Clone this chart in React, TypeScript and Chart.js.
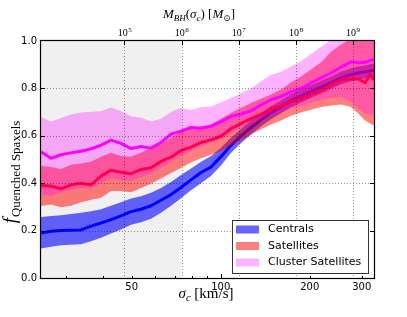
import React, { useEffect, useRef } from "react";
import { Chart, registerables } from "chart.js";

Chart.register(...registerables);

// sigma_c [km/s] sample positions
const sigma = [24.67, 26.67, 28.83, 31.16, 33.69, 36.41, 39.37, 42.56, 46.0, 49.73, 53.76, 58.11, 62.81, 67.91, 73.41, 79.36, 85.78, 92.73, 100.2, 108.3, 117.2, 126.6, 136.9, 148.0, 160.0, 172.9, 186.9, 202.1, 218.5, 236.1, 255.3, 275.9, 291.4, 307.8, 320.0, 330.0];

// Centrals
const centralsMed = [0.19, 0.197, 0.2, 0.202, 0.203, 0.219, 0.232, 0.246, 0.262, 0.28, 0.29, 0.305, 0.328, 0.352, 0.382, 0.414, 0.445, 0.468, 0.512, 0.56, 0.6, 0.635, 0.668, 0.698, 0.722, 0.748, 0.768, 0.787, 0.805, 0.824, 0.845, 0.858, 0.865, 0.87, 0.874, 0.876];
const centralsLo = [0.125, 0.132, 0.138, 0.14, 0.142, 0.155, 0.17, 0.188, 0.205, 0.225, 0.235, 0.25, 0.275, 0.305, 0.337, 0.37, 0.4, 0.43, 0.475, 0.527, 0.57, 0.605, 0.64, 0.67, 0.695, 0.72, 0.74, 0.76, 0.778, 0.797, 0.818, 0.83, 0.837, 0.842, 0.846, 0.848];
const centralsHi = [0.257, 0.262, 0.265, 0.27, 0.275, 0.282, 0.29, 0.305, 0.32, 0.335, 0.345, 0.36, 0.38, 0.405, 0.435, 0.462, 0.49, 0.515, 0.55, 0.592, 0.63, 0.665, 0.695, 0.725, 0.75, 0.775, 0.795, 0.813, 0.832, 0.85, 0.87, 0.885, 0.892, 0.897, 0.902, 0.905];

// Satellites
const satMed = [0.39, 0.388, 0.376, 0.393, 0.4, 0.393, 0.43, 0.455, 0.446, 0.44, 0.458, 0.465, 0.492, 0.51, 0.538, 0.552, 0.572, 0.583, 0.598, 0.63, 0.652, 0.672, 0.69, 0.715, 0.725, 0.745, 0.755, 0.776, 0.79, 0.815, 0.836, 0.84, 0.841, 0.824, 0.858, 0.835];
const satLo = [0.304, 0.31, 0.298, 0.305, 0.32, 0.33, 0.339, 0.367, 0.367, 0.362, 0.38, 0.398, 0.42, 0.443, 0.465, 0.487, 0.505, 0.52, 0.535, 0.56, 0.58, 0.605, 0.628, 0.648, 0.665, 0.685, 0.698, 0.71, 0.722, 0.728, 0.732, 0.722, 0.695, 0.665, 0.652, 0.645];
const satHi = [0.473, 0.468, 0.46, 0.478, 0.483, 0.49, 0.512, 0.528, 0.515, 0.512, 0.528, 0.548, 0.567, 0.592, 0.618, 0.632, 0.64, 0.648, 0.672, 0.696, 0.718, 0.738, 0.756, 0.774, 0.795, 0.825, 0.85, 0.88, 0.91, 0.955, 0.985, 1.01, 1.025, 1.035, 1.04, 1.05];

// Cluster satellites
const clusterMed = [0.533, 0.505, 0.52, 0.528, 0.535, 0.545, 0.56, 0.582, 0.568, 0.546, 0.555, 0.548, 0.572, 0.607, 0.62, 0.635, 0.632, 0.64, 0.66, 0.682, 0.692, 0.705, 0.73, 0.752, 0.766, 0.785, 0.8, 0.822, 0.845, 0.865, 0.89, 0.912, 0.908, 0.91, 0.918, 0.922];
const clusterLo = [0.353, 0.346, 0.362, 0.374, 0.38, 0.378, 0.4, 0.422, 0.413, 0.41, 0.425, 0.44, 0.465, 0.49, 0.515, 0.535, 0.555, 0.57, 0.585, 0.612, 0.632, 0.65, 0.668, 0.69, 0.7, 0.715, 0.725, 0.74, 0.75, 0.76, 0.765, 0.745, 0.715, 0.695, 0.69, 0.69];
const clusterHi = [0.679, 0.66, 0.675, 0.69, 0.698, 0.702, 0.704, 0.719, 0.705, 0.682, 0.676, 0.66, 0.672, 0.7, 0.718, 0.708, 0.72, 0.724, 0.74, 0.76, 0.78, 0.8, 0.83, 0.858, 0.87, 0.892, 0.915, 0.945, 0.975, 1.005, 1.02, 1.04, 1.05, 1.06, 1.065, 1.07];

const seriesNames = ["Centrals", "Satellites", "Cluster Satellites"];
const bandColors = ["rgba(0,0,255,0.6)", "rgba(255,0,0,0.5)", "rgba(255,0,255,0.3)"];
const lineColors = ["#0000ff", "#ff0000", "#ff00ff"];

// tick labels
const sigmaLabelTicks = [50, 100, 200, 300];
const sigmaMinorTicks = [30, 40, 50, 60, 70, 80, 90, 200, 300];
const sigmaMajorTicks = [100];
const mbhTickExps = [5, 6, 7, 8, 9];
const yGridTicks = [0.2, 0.4, 0.6, 0.8];

// axis ranges
const X_MIN = 24.67;
const X_MAX = 330;
// M_BH - sigma relation used for the top axis
const MS_A = 8.246;
const MS_B = 5.18;
const logMbh = (s: number) => MS_A + MS_B * Math.log10(s / 200);

const SANS = "'DejaVu Sans', sans-serif";
const SERIF = "'Liberation Serif', 'DejaVu Serif', serif";

type Run = { t: string; size: number; italic?: boolean; dy?: number };

function drawRuns(ctx: CanvasRenderingContext2D, runs: Run[], cx: number, baseY: number) {
  let total = 0;
  const widths = runs.map((r) => {
    ctx.font = `${r.italic ? "italic " : ""}${r.size}px ${SERIF}`;
    const w = ctx.measureText(r.t).width;
    total += w;
    return w;
  });
  let x = cx - total / 2;
  ctx.textAlign = "left";
  ctx.textBaseline = "alphabetic";
  runs.forEach((r, i) => {
    ctx.font = `${r.italic ? "italic " : ""}${r.size}px ${SERIF}`;
    ctx.fillText(r.t, x, baseY + (r.dy || 0));
    x += widths[i];
  });
}

const pts = (ys: number[]) => sigma.map((x, i) => ({ x, y: ys[i] }));

const decor = {
  id: "decor",
  beforeDatasetsDraw(chart: any) {
    const { ctx, chartArea: a, scales } = chart;
    const xg = scales.x2.getPixelForValue(1e6);
    ctx.save();
    ctx.fillStyle = "#f0f0f0";
    ctx.fillRect(a.left, a.top, xg - a.left, a.bottom - a.top);
    ctx.restore();
  },
  afterDatasetsDraw(chart: any) {
    const { ctx, chartArea: a, scales } = chart;
    ctx.save();
    // dotted grid
    ctx.strokeStyle = "rgba(0,0,0,0.4)";
    ctx.lineWidth = 1;
    ctx.setLineDash([1, 2]);
    yGridTicks.forEach((v) => {
      const y = Math.round(scales.y.getPixelForValue(v)) + 0.5;
      ctx.beginPath();
      ctx.moveTo(a.left, y);
      ctx.lineTo(a.right, y);
      ctx.stroke();
    });
    mbhTickExps.forEach((e) => {
      const x = Math.round(scales.x2.getPixelForValue(Math.pow(10, e))) + 0.5;
      ctx.beginPath();
      ctx.moveTo(x, a.top);
      ctx.lineTo(x, a.bottom);
      ctx.stroke();
    });
    ctx.setLineDash([]);
    // inside ticks
    ctx.strokeStyle = "#000";
    const line = (x1: number, y1: number, x2: number, y2: number) => {
      ctx.beginPath();
      ctx.moveTo(x1, y1);
      ctx.lineTo(x2, y2);
      ctx.stroke();
    };
    yGridTicks.forEach((v) => {
      const y = Math.round(scales.y.getPixelForValue(v)) + 0.5;
      line(a.left, y, a.left + 4, y);
      line(a.right - 4, y, a.right, y);
    });
    sigmaMinorTicks.forEach((v) => {
      const x = Math.round(scales.x.getPixelForValue(v)) + 0.5;
      line(x, a.bottom, x, a.bottom - 2);
    });
    sigmaMajorTicks.forEach((v) => {
      const x = Math.round(scales.x.getPixelForValue(v)) + 0.5;
      line(x, a.bottom, x, a.bottom - 4);
    });
    mbhTickExps.forEach((e) => {
      const x = Math.round(scales.x2.getPixelForValue(Math.pow(10, e))) + 0.5;
      line(x, a.top, x, a.top + 4);
    });
    // frame
    ctx.lineWidth = 1.2;
    ctx.strokeRect(Math.round(a.left) - 0.5, Math.round(a.top) - 0.5, Math.round(a.right - a.left) + 1, Math.round(a.bottom - a.top) + 1);
    ctx.restore();
  },
  afterDraw(chart: any) {
    const { ctx, scales } = chart;
    ctx.save();
    ctx.fillStyle = "#000";
    // top tick labels 10^n
    mbhTickExps.forEach((e) => {
      const x = scales.x2.getPixelForValue(Math.pow(10, e));
      ctx.font = `10px ${SERIF}`;
      const w1 = ctx.measureText("10").width;
      ctx.font = `7px ${SERIF}`;
      const w2 = ctx.measureText(String(e)).width;
      const x0 = x - (w1 + w2) / 2;
      ctx.textAlign = "left";
      ctx.textBaseline = "alphabetic";
      ctx.font = `10px ${SERIF}`;
      ctx.fillText("10", x0, 36);
      ctx.font = `7px ${SERIF}`;
      ctx.fillText(String(e), x0 + w1 + 0.5, 31.5);
    });
    // top axis title
    drawRuns(ctx, [
      { t: "M", size: 13, italic: true },
      { t: "BH", size: 9, italic: true, dy: 2.5 },
      { t: "(", size: 13 },
      { t: "σ", size: 13, italic: true },
      { t: "c", size: 9, italic: true, dy: 2.5 },
      { t: ")", size: 13 },
      { t: " [", size: 13 },
      { t: "M", size: 13, italic: true },
      { t: "⊙", size: 9, dy: 2.5 },
      { t: "]", size: 13 },
    ], 199, 18);
    // bottom axis title
    drawRuns(ctx, [
      { t: "σ", size: 15, italic: true },
      { t: "c", size: 10.5, italic: true, dy: 3 },
      { t: " [km/s]", size: 15 },
    ], 206, 298);
    // y axis title (rotated)
    ctx.save();
    ctx.translate(16, 172);
    ctx.rotate(-Math.PI / 2);
    drawRuns(ctx, [
      { t: "f", size: 19, italic: true },
      { t: " ", size: 4 },
      { t: "Quenched Spaxels", size: 13, dy: 3.5 },
    ], 0, 0);
    ctx.restore();
    // legend
    const lx = 232, ly = 220, lw = 136, lh = 53;
    ctx.fillStyle = "#fff";
    ctx.fillRect(lx, ly, lw, lh);
    ctx.strokeStyle = "#333";
    ctx.lineWidth = 1;
    ctx.strokeRect(lx + 0.5, ly + 0.5, lw, lh);
    const rows = [229.5, 246, 262.5];
    seriesNames.forEach((name, i) => {
      ctx.fillStyle = bandColors[i];
      ctx.fillRect(236, rows[i] - 4, 23, 8);
      ctx.fillStyle = "#000";
      ctx.font = `11px ${SANS}`;
      ctx.textAlign = "left";
      ctx.textBaseline = "middle";
      ctx.fillText(name, 268, rows[i]);
    });
    ctx.restore();
  },
};

export default function App() {
  const ref = useRef<HTMLCanvasElement | null>(null);
  useEffect(() => {
    if (!ref.current) return;
    const bands = [
      [centralsHi, centralsLo, centralsMed],
      [satHi, satLo, satMed],
      [clusterHi, clusterLo, clusterMed],
    ];
    const datasets: any[] = [];
    let order = 9;
    bands.forEach(([hi, lo, med], i) => {
      datasets.push({
        label: seriesNames[i] + " upper",
        data: pts(hi),
        borderColor: "rgba(0,0,0,0)",
        borderWidth: 0,
        pointRadius: 0,
        fill: "+1",
        backgroundColor: bandColors[i],
        tension: 0,
        order: order--,
      });
      datasets.push({
        label: seriesNames[i] + " lower",
        data: pts(lo),
        borderColor: "rgba(0,0,0,0)",
        borderWidth: 0,
        pointRadius: 0,
        fill: false,
        tension: 0,
        order: order--,
      });
      datasets.push({
        label: seriesNames[i],
        data: pts(med),
        borderColor: lineColors[i],
        borderWidth: 3,
        pointRadius: 0,
        fill: false,
        tension: 0,
        borderJoinStyle: "round",
        order: order--,
      });
    });
    const tickFont = { family: SANS, size: 10 };
    const chart = new Chart(ref.current, {
      type: "line",
      data: { datasets },
      options: {
        animation: false,
        responsive: false,
        maintainAspectRatio: false,
        layout: { padding: { left: 0, right: 33, top: 0, bottom: 0 } },
        plugins: { legend: { display: false }, tooltip: { enabled: false } },
        scales: {
          x: {
            type: "logarithmic",
            position: "bottom",
            min: X_MIN,
            max: X_MAX,
            grid: { display: false, drawTicks: false },
            border: { display: false },
            ticks: {
              font: tickFont,
              color: "#000",
              padding: 3,
              maxRotation: 0,
              autoSkip: false,
              callback: (v: any) => String(v),
            },
            afterBuildTicks: (s: any) => {
              s.ticks = sigmaLabelTicks.map((v) => ({ value: v }));
            },
            afterFit: (s: any) => {
              s.height = 39;
            },
          },
          x2: {
            type: "logarithmic",
            position: "top",
            min: Math.pow(10, logMbh(X_MIN)),
            max: Math.pow(10, logMbh(X_MAX)),
            grid: { display: false, drawTicks: false },
            border: { display: false },
            ticks: { display: false },
            afterFit: (s: any) => {
              s.height = 41;
            },
          },
          y: {
            min: 0,
            max: 1,
            grid: { display: false, drawTicks: false },
            border: { display: false },
            ticks: {
              stepSize: 0.2,
              font: tickFont,
              color: "#000",
              padding: 4,
              callback: (v: any) => Number(v).toFixed(1),
            },
            afterFit: (s: any) => {
              s.width = 41;
            },
          },
        },
      } as any,
      plugins: [decor],
    });
    return () => chart.destroy();
  }, []);
  return (
    <div style={{ position: "absolute", left: 0, top: 0, width: 407, height: 317 }}>
      <canvas ref={ref} width={407} height={317} style={{ width: 407, height: 317 }} />
    </div>
  );
}
